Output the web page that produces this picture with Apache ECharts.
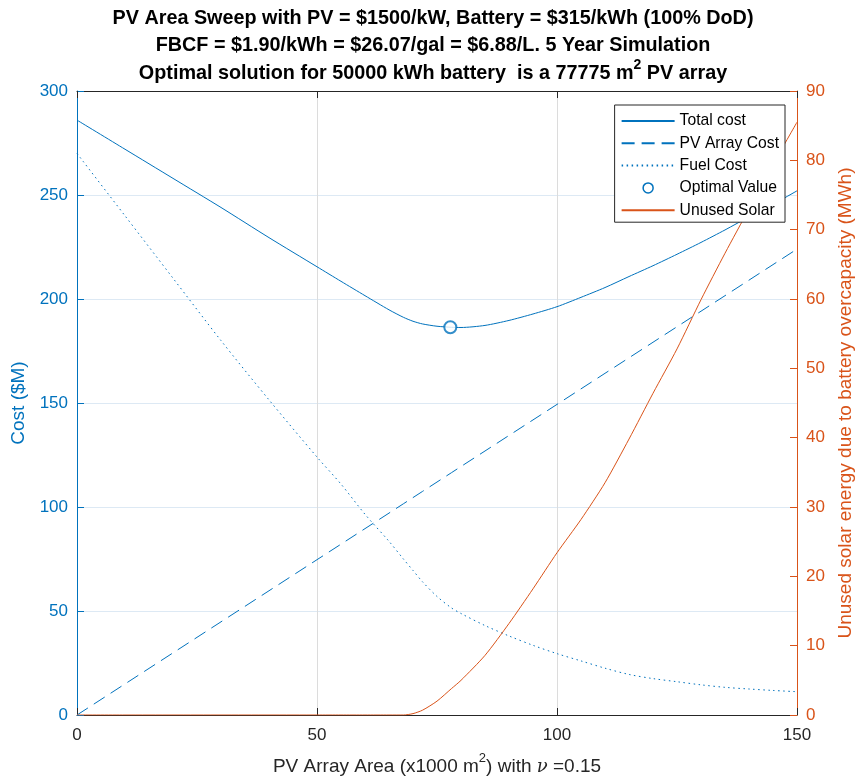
<!DOCTYPE html>
<html>
<head>
<meta charset="utf-8">
<script src="https://cdn.jsdelivr.net/npm/echarts@6/dist/echarts.min.js"></script>
<style>
html,body{margin:0;padding:0;background:#fff;overflow:hidden;width:858px;height:778px;}
#chart{position:absolute;left:0;top:0;width:858px;height:778px;}
</style>
</head>
<body>
<div id="chart"></div>
<script>
// PV array area (x1000 m^2)
const xs = [0,10,20,30,40,50,55,60,65,68,70,72,75,78,80,85,90,95,100,105,110,115,120,125,130,135,140,145,150];
// Total cost ($M)
const totalCost = [286,272,258,244,229.5,215.5,208.5,201.6,194.8,191.2,189.3,188.0,186.9,186.4,186.3,187.3,189.7,192.8,196.3,200.8,205.5,210.8,216,221.5,227.2,233.2,239.5,245.5,252];
// PV array cost ($M)
const pvCost = [0,14.93,29.87,44.8,59.73,74.67,82.13,89.6,97.07,101.55,104.53,107.52,112,116.48,119.47,126.93,134.4,141.87,149.33,156.8,164.27,171.73,179.2,186.67,194.13,201.6,209.07,216.53,224];
// Fuel cost ($M)
const fuelCost = [270,240,210,180,151.5,124,111,96.5,83.5,75,69.5,64,57,51.5,48.8,43,38,33.5,29.5,26,22.5,19.5,17.5,16,14.5,13.3,12.5,11.8,11.2];
// Unused solar energy (MWh)
const unusedSolar = [0,0,0,0,0,0,0,0,0,0,0.2,0.7,2.0,3.8,5.0,8.6,13.2,18.2,23.4,28.2,33.5,39.8,46.4,52.8,59.9,66.6,73.0,79.4,85.5];
// Optimal value
const optimalX = [77.775];
const optimalY = [186.4];

const BLUE = '#0072BD';
const ORANGE = '#D95319';
const DARK = '#262626';
const FONT = '"Liberation Sans", Arial, Helvetica, sans-serif';

const pairs = arr => xs.map((x, i) => [x, arr[i]]);

const chart = echarts.init(document.getElementById('chart'), null, {renderer: 'canvas', width: 858, height: 778});

const TFS = 19.8;
const titleStyle = {fontFamily: FONT, fontWeight: 'bold', fontSize: TFS, color: '#000'};

const option = {
  animation: false,
  backgroundColor: '#fff',
  title: [
    {text: 'PV Area Sweep with PV = $1500/kW, Battery = $315/kWh (100% DoD)', left: 433, textAlign: 'center', top: 9, padding: 0, textStyle: titleStyle},
    {text: 'FBCF = $1.90/kWh = $26.07/gal = $6.88/L. 5 Year Simulation', left: 433, textAlign: 'center', top: 36, padding: 0, textStyle: titleStyle},
    {text: '{b|Optimal solution for 50000 kWh battery  is a 77775 m}{s|2}{b| PV array}', left: 433, textAlign: 'center', top: 58, padding: 0,
      textStyle: {
        fontFamily: FONT, fontWeight: 'bold', fontSize: TFS, color: '#000',
        rich: {
          b: {fontFamily: FONT, fontWeight: 'bold', fontSize: TFS, color: '#000', verticalAlign: 'bottom', lineHeight: 26},
          s: {fontFamily: FONT, fontWeight: 'bold', fontSize: 14, color: '#000', verticalAlign: 'top', lineHeight: 26, padding: [0,0,11,0]}
        }
      }
    }
  ],
  grid: {left: 77, right: 61, top: 91, bottom: 63, containLabel: false, outerBoundsMode: 'none'},
  legend: {
    orient: 'vertical',
    right: 73,
    top: 105,
    backgroundColor: '#fff',
    borderColor: DARK,
    borderWidth: 1,
    borderRadius: 0,
    padding: [8, 6, 4, 6],
    itemWidth: 53,
    itemHeight: 10,
    itemGap: 6.3,
    textStyle: {fontFamily: FONT, fontSize: 15.7, color: '#000', lineHeight: 16},
    data: [
      {name: 'Total cost', itemStyle: {opacity: 0}},
      {name: 'PV Array Cost', itemStyle: {opacity: 0}},
      {name: 'Fuel Cost', itemStyle: {opacity: 0}},
      {name: 'Optimal Value', icon: 'circle', itemStyle: {color: '#fff', borderColor: BLUE, borderWidth: 1.5, opacity: 1}},
      {name: 'Unused Solar', itemStyle: {opacity: 0}}
    ]
  },
  xAxis: [
    {
      type: 'value', min: 0, max: 150, interval: 50, position: 'bottom',
      name: '{a|PV Array Area (x1000 m}{s|2}{a|) with }{i|ν}{a| =0.15}',
      nameLocation: 'middle', nameGap: 37,
      nameTextStyle: {
        color: DARK, fontFamily: FONT, fontSize: 19,
        rich: {
          a: {color: DARK, fontFamily: FONT, fontSize: 19, verticalAlign: 'bottom', lineHeight: 24},
          s: {color: DARK, fontFamily: FONT, fontSize: 13, verticalAlign: 'top', lineHeight: 24, padding: [0,0,10,0]},
          i: {color: DARK, fontFamily: '"DejaVu Serif", "Liberation Serif", serif', fontStyle: 'italic', fontSize: 18, verticalAlign: 'bottom', lineHeight: 24}
        }
      },
      axisLine: {show: true, onZero: false, lineStyle: {color: DARK, width: 1}},
      axisTick: {show: true, inside: true, length: 7, lineStyle: {color: DARK, width: 1}},
      axisLabel: {color: DARK, fontFamily: FONT, fontSize: 17, margin: 12},
      splitLine: {show: true, lineStyle: {color: '#dcdcdc', width: 1}}
    },
    {
      type: 'value', min: 0, max: 150, interval: 50, position: 'top',
      axisLine: {show: true, onZero: false, lineStyle: {color: DARK, width: 1}},
      axisTick: {show: true, inside: true, length: 7, lineStyle: {color: DARK, width: 1}},
      axisLabel: {show: false},
      splitLine: {show: false}
    }
  ],
  yAxis: [
    {
      type: 'value', min: 0, max: 300, interval: 50, position: 'left',
      name: 'Cost ($M)', nameLocation: 'middle', nameGap: 36, nameRotate: 90,
      nameTextStyle: {color: BLUE, fontFamily: FONT, fontSize: 19},
      axisLine: {show: true, onZero: false, lineStyle: {color: BLUE, width: 1}},
      axisTick: {show: true, inside: true, length: 7, lineStyle: {color: BLUE, width: 1}},
      axisLabel: {color: BLUE, fontFamily: FONT, fontSize: 17, margin: 9},
      splitLine: {show: true, lineStyle: {color: '#dde9f4', width: 1}}
    },
    {
      type: 'value', min: 0, max: 90, interval: 10, position: 'right',
      name: 'Unused solar energy due to battery overcapacity (MWh)', nameLocation: 'middle', nameGap: 39, nameRotate: 90,
      nameTextStyle: {color: ORANGE, fontFamily: FONT, fontSize: 19},
      axisLine: {show: true, onZero: false, lineStyle: {color: ORANGE, width: 1}},
      axisTick: {show: true, inside: true, length: 7, lineStyle: {color: ORANGE, width: 1}},
      axisLabel: {color: ORANGE, fontFamily: FONT, fontSize: 17, margin: 9},
      splitLine: {show: false}
    }
  ],
  series: [
    {
      name: 'Total cost', type: 'line', xAxisIndex: 0, yAxisIndex: 0,
      data: pairs(totalCost), symbol: 'none', showSymbol: false,
      smooth: 0.25,
      color: BLUE, lineStyle: {color: BLUE, width: 1}
    },
    {
      name: 'PV Array Cost', type: 'line', xAxisIndex: 0, yAxisIndex: 0,
      data: pairs(pvCost), symbol: 'none', showSymbol: false,
      color: BLUE, lineStyle: {color: BLUE, width: 1, type: [13, 7]}
    },
    {
      name: 'Fuel Cost', type: 'line', xAxisIndex: 0, yAxisIndex: 0,
      data: pairs(fuelCost), symbol: 'none', showSymbol: false,
      smooth: 0.3,
      color: BLUE, lineStyle: {color: BLUE, width: 1, type: [1.5, 3.5]}
    },
    {
      name: 'Optimal Value', type: 'scatter', xAxisIndex: 0, yAxisIndex: 0,
      data: optimalX.map((x, i) => [x, optimalY[i]]),
      symbol: 'emptyCircle', symbolSize: 12, z: 5,
      color: BLUE, itemStyle: {color: BLUE, borderColor: BLUE, borderWidth: 1.5}
    },
    {
      name: 'Unused Solar', type: 'line', xAxisIndex: 0, yAxisIndex: 1,
      data: pairs(unusedSolar), symbol: 'none', showSymbol: false,
      smooth: 0.25,
      color: ORANGE, lineStyle: {color: ORANGE, width: 1}
    }
  ]
};

chart.setOption(option);
</script>
</body>
</html>
